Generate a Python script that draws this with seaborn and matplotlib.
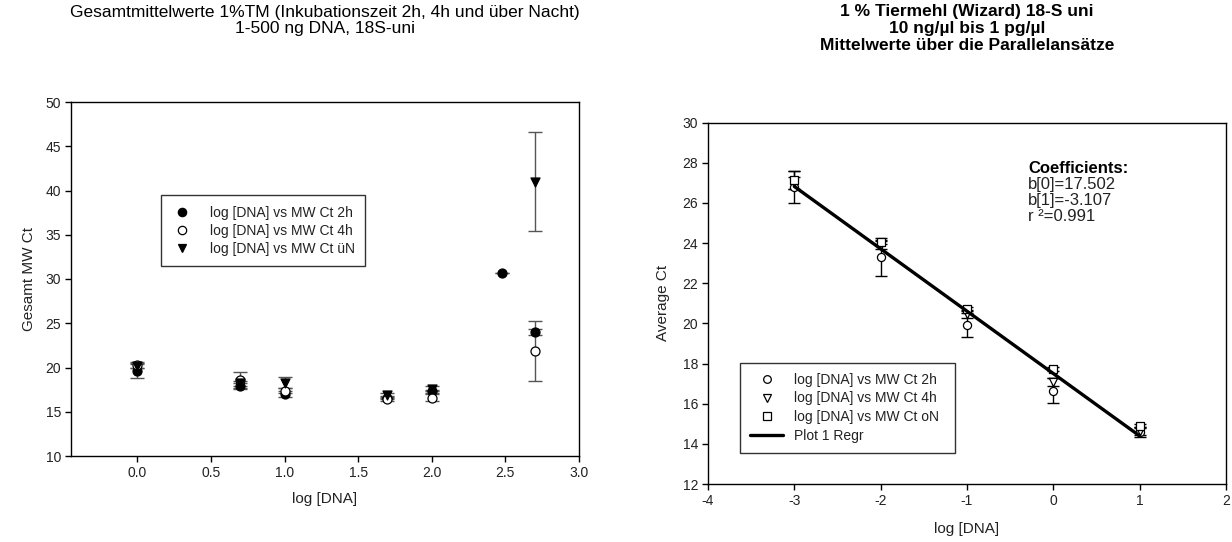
import numpy as np
import pandas as pd
import matplotlib
matplotlib.use("Agg")
import matplotlib.pyplot as plt
import seaborn as sns
from matplotlib.lines import Line2D

# ---------------- data: left chart ----------------
left_x = [0.0, 0.699, 1.0, 1.699, 2.0, 2.477, 2.699]
ct_2h = [19.6, 17.9, 17.0, 16.6, 17.3, 30.7, 24.0]
ct_2h_err = [0.8, 0.3, 0.3, 0.2, 0.2, 0.0, 0.3]
ct_4h = [20.3, 18.6, 17.4, 16.4, 16.6, np.nan, 21.9]
ct_4h_err = [0.3, 0.9, 0.3, 0.2, 0.4, np.nan, 3.4]
ct_uN = [20.2, 18.2, 18.3, 16.9, 17.6, np.nan, 41.0]
ct_uN_err = [0.3, 0.3, 0.65, 0.2, 0.3, np.nan, 5.6]
left_labels = ["log [DNA] vs MW Ct 2h", "log [DNA] vs MW Ct 4h", "log [DNA] vs MW Ct üN"]

# ---------------- data: right chart ----------------
right_x = [-3, -2, -1, 0, 1]
avg_2h = [26.8, 23.3, 19.9, 16.65, 14.6]
avg_2h_err = [0.8, 0.95, 0.6, 0.63, 0.25]
avg_4h = [27.0, 23.9, 20.45, 17.1, 14.65]
avg_4h_err = [0.3, 0.2, 0.2, 0.2, 0.2]
avg_oN = [27.15, 24.05, 20.7, 17.75, 14.9]
avg_oN_err = [0.45, 0.1, 0.1, 0.1, 0.1]
right_labels = ["log [DNA] vs MW Ct 2h", "log [DNA] vs MW Ct 4h", "log [DNA] vs MW Ct oN", "Plot 1 Regr"]
b0, b1, r2 = 17.502, -3.107, 0.991

sns.set_theme(style="white")
plt.rcParams['font.family'] = ['Liberation Sans', 'DejaVu Sans']
plt.rcParams['axes.unicode_minus'] = False
TXT = '#222222'

fig = plt.figure(figsize=(12.32, 5.42), dpi=100)
axL = fig.add_axes([71/1232, 1-456/542, (579-71)/1232, (456-102)/542])
axR = fig.add_axes([708/1232, 1-484/542, (1226-708)/1232, (484-122.7)/542])

for ax in (axL, axR):
    for s in ax.spines.values():
        s.set_color('black')
        s.set_linewidth(1.0)
    ax.tick_params(axis='both', which='both', direction='out', length=4, width=1,
                   color='black', labelsize=10, labelcolor=TXT, left=True, bottom=True,
                   top=False, right=False, pad=3)
    ax.grid(False)

# ---------- left chart ----------
series_L = [
    (ct_2h, ct_2h_err, 'o', 'black'),
    (ct_4h, ct_4h_err, 'o', 'white'),
    (ct_uN, ct_uN_err, 'v', 'black'),
]
x_arr = np.array(left_x)
handles_L = []
for (vals, errs, mk, fc), lab in zip(series_L, left_labels):
    v = np.array(vals, dtype=float); e = np.array(errs, dtype=float)
    ok = ~np.isnan(v)
    axL.errorbar(x_arr[ok], v[ok], yerr=e[ok], fmt='none', ecolor='#555555',
                 elinewidth=1.0, capsize=5, capthick=1.0, zorder=2)
    df = pd.DataFrame({'x': x_arr[ok], 'y': v[ok]})
    sns.scatterplot(data=df, x='x', y='y', marker=mk, color=fc, edgecolor='black',
                    linewidth=0.9, s=42, ax=axL, zorder=3, legend=False)
    handles_L.append(Line2D([], [], linestyle='none', marker=mk, markersize=6,
                            markerfacecolor=fc, markeredgecolor='black', markeredgewidth=0.9))

axL.set_xlim(-0.45, 3.0)
axL.set_ylim(10, 50)
axL.set_xticks(np.arange(0, 3.01, 0.5))
axL.set_xticklabels([f"{t:.1f}" for t in np.arange(0, 3.01, 0.5)])
axL.set_yticks(np.arange(10, 51, 5))
axL.set_xlabel("log [DNA]", fontsize=11, color=TXT, labelpad=9)
axL.set_ylabel("Gesamt MW Ct", fontsize=11, color=TXT, labelpad=7)
legL = axL.legend(handles_L, left_labels, loc='upper left', bbox_to_anchor=(0.177, 0.737, 0.402, 0.0),
                  mode='expand', frameon=True, fancybox=False, fontsize=10,
                  handletextpad=1.2, borderpad=0.75, labelspacing=0.3, handlelength=1.6,
                  borderaxespad=0)
legL.get_frame().set_edgecolor('black')
legL.get_frame().set_linewidth(1.0)
for t in legL.get_texts():
    t.set_color(TXT)

# ---------- right chart ----------
series_R = [
    (avg_2h, avg_2h_err, 'o'),
    (avg_4h, avg_4h_err, 'v'),
    (avg_oN, avg_oN_err, 's'),
]
xr = np.array(right_x, dtype=float)
handles_R = []
for (vals, errs, mk), lab in zip(series_R, right_labels[:3]):
    axR.errorbar(xr, vals, yerr=errs, fmt='none', ecolor='black', elinewidth=1.0,
                 capsize=4, capthick=1.0, zorder=2)
    df = pd.DataFrame({'x': xr, 'y': vals})
    sns.scatterplot(data=df, x='x', y='y', marker=mk, color='white', edgecolor='black',
                    linewidth=0.9, s=34, ax=axR, zorder=3, legend=False)
    handles_R.append(Line2D([], [], linestyle='none', marker=mk, markersize=5.5,
                            markerfacecolor='white', markeredgecolor='black', markeredgewidth=0.9))

x_fit = np.array([xr.min(), xr.max()])
sns.lineplot(x=x_fit, y=b0 + b1 * x_fit, color='black', linewidth=2.4, ax=axR, zorder=4)
handles_R.append(Line2D([], [], color='black', linewidth=2.4))

axR.set_xlim(-4, 2)
axR.set_ylim(12, 30)
axR.set_xticks(np.arange(-4, 2.1, 1))
axR.set_yticks(np.arange(12, 31, 2))
axR.set_xlabel("log [DNA]", fontsize=11, color=TXT, labelpad=10)
axR.set_ylabel("Average Ct", fontsize=11, color=TXT, labelpad=9)
legR = axR.legend(handles_R, right_labels, loc='lower left', bbox_to_anchor=(0.062, 0.086, 0.415, 0.0),
                  mode='expand', frameon=True, fancybox=False, fontsize=10,
                  handletextpad=0.8, borderpad=0.7, labelspacing=0.35, handlelength=2.4,
                  borderaxespad=0)
legR.get_frame().set_edgecolor('black')
legR.get_frame().set_linewidth(1.0)
for t in legR.get_texts():
    t.set_color(TXT)

coef_lines = [f"b[0]={b0:.3f}", f"b[1]={b1:.3f}", f"r ²={r2:.3f}"]
axR.text(-0.29, 27.72, "Coefficients:", fontsize=12, fontweight='bold', color='black', va='center')
for k, line in enumerate(coef_lines):
    axR.text(-0.29, 27.72 - 0.8 * (k + 1), line, fontsize=12, color=TXT, va='center')

# titles
cxL = (71 + 579) / 2 / 1232
cxR = (708 + 1226) / 2 / 1232
fig.text(cxL, 1 - 5/542, "Gesamtmittelwerte 1%TM (Inkubationszeit 2h, 4h und über Nacht)\n1-500 ng DNA, 18S-uni",
         ha='center', va='top', fontsize=12.5, color='black', linespacing=1.1)
fig.text(cxR, 1 - 4/542, "1 % Tiermehl (Wizard) 18-S uni\n10 ng/µl bis 1 pg/µl\nMittelwerte über die Parallelansätze",
         ha='center', va='top', fontsize=12.5, fontweight='bold', color='black', linespacing=1.15)

fig.savefig("out.png", dpi=100, facecolor='white')
